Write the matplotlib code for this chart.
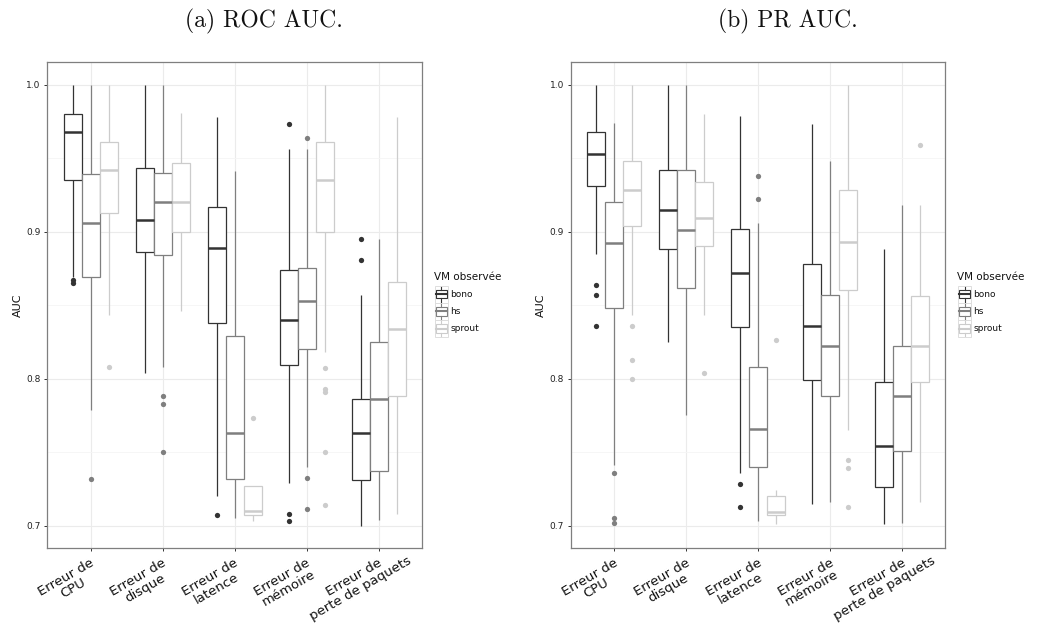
import matplotlib
matplotlib.use("Agg")
import matplotlib.pyplot as plt
from matplotlib.patches import Rectangle
from matplotlib.transforms import ScaledTranslation

# ---------------- data ----------------
categories = ["Erreur de\nCPU", "Erreur de\ndisque", "Erreur de\nlatence",
              "Erreur de\nmémoire", "Erreur de\nperte de paquets"]
groups = ["bono", "hs", "sprout"]
group_colors = ["#333333", "#7f7f7f", "#cccccc"]
yticks = [0.7, 0.8, 0.9, 1.0]
ytick_labels = ["0.7", "0.8", "0.9", "1.0"]
titles = ["(a) ROC AUC.", "(b) PR AUC."]

# per category: [lower whisker, Q1, median, Q3, upper whisker]
roc_bono = [[0.869, 0.935, 0.968, 0.980, 1.000],
            [0.804, 0.886, 0.908, 0.943, 1.000],
            [0.720, 0.838, 0.889, 0.917, 0.978],
            [0.729, 0.809, 0.840, 0.874, 0.956],
            [0.700, 0.731, 0.763, 0.786, 0.857]]
roc_hs = [[0.779, 0.869, 0.906, 0.939, 1.000],
          [0.808, 0.884, 0.920, 0.940, 1.000],
          [0.705, 0.732, 0.763, 0.829, 0.941],
          [0.740, 0.820, 0.853, 0.875, 0.956],
          [0.704, 0.737, 0.786, 0.825, 0.895]]
roc_sprout = [[0.843, 0.913, 0.942, 0.961, 1.000],
              [0.846, 0.900, 0.920, 0.947, 0.981],
              [0.703, 0.707, 0.710, 0.727, 0.727],
              [0.818, 0.900, 0.935, 0.961, 1.000],
              [0.708, 0.788, 0.834, 0.866, 0.978]]
roc_bono_out = [[0.867, 0.865], [], [0.707], [0.9735, 0.708, 0.703], [0.895, 0.881]]
roc_hs_out = [[0.732], [0.788, 0.783, 0.750], [], [0.964, 0.7325, 0.711], []]
roc_sprout_out = [[0.808], [], [0.773], [0.807, 0.793, 0.791, 0.750, 0.714], []]

pr_bono = [[0.885, 0.931, 0.953, 0.968, 1.000],
           [0.825, 0.888, 0.915, 0.942, 1.000],
           [0.736, 0.835, 0.872, 0.902, 0.979],
           [0.715, 0.799, 0.836, 0.878, 0.973],
           [0.701, 0.726, 0.754, 0.798, 0.888]]
pr_hs = [[0.741, 0.848, 0.892, 0.920, 0.974],
         [0.775, 0.862, 0.901, 0.942, 1.000],
         [0.703, 0.740, 0.766, 0.808, 0.906],
         [0.716, 0.788, 0.822, 0.857, 0.948],
         [0.702, 0.751, 0.788, 0.822, 0.918]]
pr_sprout = [[0.843, 0.904, 0.928, 0.948, 1.000],
             [0.843, 0.890, 0.909, 0.934, 0.980],
             [0.701, 0.707, 0.709, 0.720, 0.724],
             [0.765, 0.860, 0.893, 0.928, 1.000],
             [0.716, 0.798, 0.822, 0.856, 0.918]]
pr_bono_out = [[0.864, 0.857, 0.836], [], [0.728, 0.713], [], []]
pr_hs_out = [[0.736, 0.705, 0.702], [], [0.938, 0.922], [], []]
pr_sprout_out = [[0.836, 0.813, 0.800], [0.804], [0.826], [0.745, 0.739, 0.713], [0.959]]

# ---------------- layout ----------------
W, H = 1040, 630
fig = plt.figure(figsize=(W / 100, H / 100), dpi=100)
fig.patch.set_facecolor("white")

PANEL_TOP, PANEL_BOTTOM, PANEL_W = 62.0, 548.3, 374.4


def draw_panel(left_px, stats_by_group, outs_by_group, title):
    ax = fig.add_axes([left_px / W, 1 - PANEL_BOTTOM / H, PANEL_W / W,
                       (PANEL_BOTTOM - PANEL_TOP) / H])
    offsets = [-0.25, 0.0, 0.25]
    for gi, (stats, outs, col) in enumerate(zip(stats_by_group, outs_by_group, group_colors)):
        bstats = [dict(whislo=s[0], q1=s[1], med=s[2], q3=s[3], whishi=s[4], fliers=o)
                  for s, o in zip(stats, outs)]
        pos = [i + 1 + offsets[gi] for i in range(len(categories))]
        ax.bxp(bstats, positions=pos, widths=0.25, showcaps=False, patch_artist=True,
               boxprops=dict(facecolor="white", edgecolor=col, linewidth=0.9),
               whiskerprops=dict(color=col, linewidth=0.9, solid_capstyle="butt"),
               medianprops=dict(color=col, linewidth=1.8, solid_capstyle="butt"),
               flierprops=dict(marker="o", markerfacecolor=col, markeredgecolor="none",
                               markersize=3.8))
    ax.set_xlim(0.4, len(categories) + 0.6)
    ax.set_ylim(0.6846, 1.0154)
    ax.set_yticks(yticks)
    ax.set_yticklabels(ytick_labels, fontsize=6.5, color="#222222")
    ax.set_yticks([0.75, 0.85, 0.95], minor=True)
    ax.set_xticks(range(1, len(categories) + 1))
    ax.set_xticklabels([])
    ax.tick_params(axis="both", which="major", length=2.2, width=0.7, color="#333333", pad=2.5)
    ax.tick_params(axis="y", which="minor", length=0)
    ax.set_axisbelow(True)
    ax.grid(which="major", color="#ebebeb", linewidth=0.8)
    ax.grid(which="minor", axis="y", color="#f5f5f5", linewidth=0.6)
    for sp in ax.spines.values():
        sp.set_color("#7f7f7f")
        sp.set_linewidth(0.9)
    ax.set_ylabel("AUC", fontsize=8, color="#111111", labelpad=2.5)
    # rotated x labels
    off = ScaledTranslation(-27.5 / 100, -23.4 / 100, fig.dpi_scale_trans)
    for i, lab in enumerate(categories):
        ax.text(i + 1, 0, lab, transform=ax.get_xaxis_transform() + off,
                rotation=30, rotation_mode="anchor", ha="center", va="top",
                multialignment="center", fontsize=9.5, color="#111111", linespacing=1.0)
    # title
    fig.text((left_px + 217) / W, 1 - 21 / H, title, family="cmr10", fontsize=17,
             ha="center", va="center", color="#111111")
    # legend (drawn in pixel coords)
    lx = left_px + PANEL_W + 12
    lax = fig.add_axes([lx / W, 1 - 345 / H, 80 / W, 80 / H])
    lax.set_xlim(0, 80)
    lax.set_ylim(80, 0)
    lax.axis("off")
    # lax spans y pixels 265..345
    lax.text(0, 277 - 265, "VM observée", fontsize=7.5, va="center", ha="left", color="#111111")
    for gi, (g, col) in enumerate(zip(groups, group_colors)):
        cy = 294 - 265 + gi * 17.3
        kw, kh = 13, 17
        lax.add_patch(Rectangle((1, cy - kh / 2), kw, kh, facecolor="white",
                                edgecolor="#dddddd", linewidth=0.7))
        bx0, bw, bh = 1 + 1.2, kw - 2.4, 8.5
        lax.plot([1 + kw / 2] * 2, [cy - kh / 2 + 1, cy - bh / 2], color=col, lw=0.8)
        lax.plot([1 + kw / 2] * 2, [cy + bh / 2, cy + kh / 2 - 1], color=col, lw=0.8)
        lax.add_patch(Rectangle((bx0, cy - bh / 2), bw, bh, facecolor="white",
                                edgecolor=col, linewidth=0.8))
        lax.plot([bx0, bx0 + bw], [cy, cy], color=col, lw=1.5)
        lax.text(1 + kw + 2.5, cy, g, fontsize=6.5, va="center", ha="left", color="#111111")
    return ax


draw_panel(47.3, [roc_bono, roc_hs, roc_sprout],
           [roc_bono_out, roc_hs_out, roc_sprout_out], titles[0])
draw_panel(570.7, [pr_bono, pr_hs, pr_sprout],
           [pr_bono_out, pr_hs_out, pr_sprout_out], titles[1])

fig.savefig("out.png", dpi=100, facecolor="white")
